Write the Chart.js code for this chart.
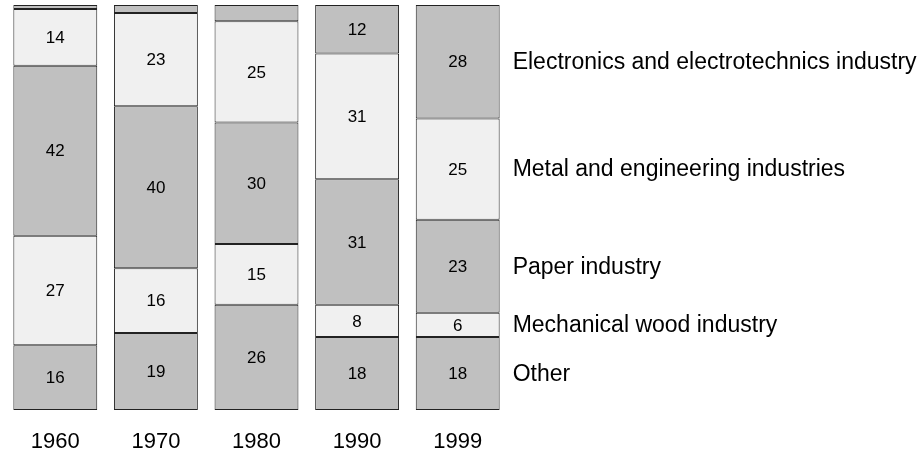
<!DOCTYPE html>
<html>
<head>
<meta charset="utf-8">
<script src="https://cdn.jsdelivr.net/npm/chart.js@4.4.0/dist/chart.umd.min.js"></script>
<style>
  html, body { margin: 0; padding: 0; background: #ffffff; }
  #wrap { width: 922px; height: 455px; }
</style>
</head>
<body>
<div id="wrap"><canvas id="chart"></canvas></div>
<script>
// Industry shares (%) by year, bottom to top
const years = ['1960', '1970', '1980', '1990', '1999'];
const other = [16, 19, 26, 18, 18];
const mechanicalWood = [27, 16, 15, 8, 6];
const paper = [42, 40, 30, 31, 23];
const metalEngineering = [14, 23, 25, 31, 25];
const electronics = [1, 2, 4, 12, 28];

const seriesNames = [
    'Other',
    'Mechanical wood industry',
    'Paper industry',
    'Metal and engineering industries',
    'Electronics and electrotechnics industry'
];
const seriesValues = [other, mechanicalWood, paper, metalEngineering, electronics];

const DARK = '#c0c0c0';
const LIGHT = '#f0f0f0';
const FONT = '"Liberation Sans", Arial, sans-serif';

// value labels inside segments + series names beside last bar
const segmentLabels = {
    id: 'segmentLabels',
    afterDatasetsDraw(chart) {
        const ctx = chart.ctx;
        ctx.save();
        ctx.textBaseline = 'middle';
        ctx.fillStyle = '#000';
        chart.data.datasets.forEach((ds, i) => {
            const meta = chart.getDatasetMeta(i);
            ctx.textAlign = 'center';
            ctx.font = '17px ' + FONT;
            meta.data.forEach((bar, j) => {
                const v = ds.data[j];
                if (v < 5) return;
                ctx.fillText(String(v), bar.x, (bar.y + bar.base) / 2 + 1);
            });
            // name next to the last column
            const last = meta.data[meta.data.length - 1];
            ctx.textAlign = 'left';
            ctx.font = '23px ' + FONT;
            ctx.fillText(ds.label, last.x + last.width / 2 + 13, (last.y + last.base) / 2 + 1);
        });
        ctx.restore();
    }
};

const datasets = seriesNames.map((name, i) => ({
    label: name,
    data: seriesValues[i],
    backgroundColor: i % 2 === 0 ? DARK : LIGHT,
    borderColor: '#222222',
    borderWidth: 1,
    borderSkipped: false,
    categoryPercentage: 1,
    barPercentage: 0.834
}));

new Chart(document.getElementById('chart'), {
    type: 'bar',
    data: { labels: years, datasets: datasets },
    options: {
        responsive: true,
        maintainAspectRatio: false,
        animation: false,
        layout: { padding: { left: 5, right: 414, top: 5, bottom: 0 } },
        plugins: {
            legend: { display: false },
            tooltip: { enabled: false }
        },
        scales: {
            x: {
                stacked: true,
                grid: { display: false },
                border: { display: false },
                ticks: { color: '#000', padding: 11, font: { family: FONT, size: 22 } },
                afterFit(scale) { scale.height = 45; }
            },
            y: {
                stacked: true,
                display: false,
                min: 0,
                max: 100
            }
        }
    },
    plugins: [segmentLabels]
});
</script>
</body>
</html>
